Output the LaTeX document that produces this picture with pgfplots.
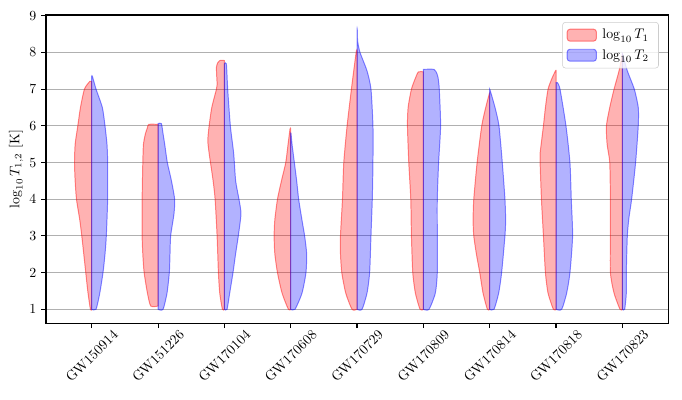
\documentclass[border=0pt]{standalone}
\usepackage{pgfplots}
\usepackage{pgfplotstable}
\pgfplotsset{compat=1.18}

% half-violin outlines: y value, half width (category units)
% GW150914
\pgfplotstableread[row sep=\\]{
y w\\ 1.0 0\\ 1.0 0.02\\ 1.5 0.06\\ 2 0.09\\ 2.5 0.12\\ 3 0.15\\ 3.43 0.18\\ 4 0.23\\ 4.5 0.25\\ 5 0.26\\ 5.5 0.25\\ 6 0.21\\ 6.5 0.17\\ 7 0.11\\ 7.21 0.03\\ 7.21 0\\
}\ra
\pgfplotstableread[row sep=\\]{
y w\\ 1.0 0\\ 1.0 0.065\\ 1.43 0.12\\ 2 0.17\\ 2.5 0.20\\ 3 0.22\\ 4 0.24\\ 5 0.24\\ 5.5 0.23\\ 6 0.20\\ 6.5 0.16\\ 7 0.065\\ 7.35 0.01\\ 7.35 0\\
}\ba
% GW151226
\pgfplotstableread[row sep=\\]{
y w\\ 1.09 0\\ 1.09 0.11\\ 1.44 0.16\\ 2 0.21\\ 2.5 0.23\\ 3 0.24\\ 4 0.24\\ 5 0.23\\ 5.5 0.22\\ 5.79 0.19\\ 5.95 0.16\\ 6.04 0.14\\ 6.04 0\\
}\rb
\pgfplotstableread[row sep=\\]{
y w\\ 1 0\\ 1 0.075\\ 1.44 0.135\\ 2 0.17\\ 2.5 0.18\\ 3 0.19\\ 3.6 0.24\\ 4 0.25\\ 4.52 0.2\\ 5 0.14\\ 5.5 0.10\\ 5.79 0.075\\ 6.06 0.05\\ 6.06 0\\
}\bb
% GW170104
\pgfplotstableread[row sep=\\]{
y w\\ 1 0\\ 1 0.03\\ 1.44 0.07\\ 2 0.09\\ 3 0.11\\ 4 0.14\\ 4.5 0.17\\ 5 0.21\\ 5.25 0.23\\ 5.6 0.25\\ 6 0.23\\ 6.5 0.19\\ 7 0.12\\ 7.15 0.11\\ 7.33 0.115\\ 7.6 0.12\\ 7.72 0.1\\ 7.78 0.07\\ 7.78 0\\
}\rc
\pgfplotstableread[row sep=\\]{
y w\\ 1 0\\ 1 0.04\\ 1.44 0.08\\ 2 0.13\\ 2.52 0.17\\ 3 0.21\\ 3.6 0.25\\ 4 0.22\\ 4.5 0.17\\ 5.25 0.14\\ 6 0.09\\ 7 0.05\\ 7.69 0.03\\ 7.69 0\\
}\bc
% GW170608
\pgfplotstableread[row sep=\\]{
y w\\ 1 0\\ 1 0.035\\ 1.44 0.13\\ 2 0.2\\ 2.52 0.24\\ 3 0.25\\ 3.43 0.24\\ 4 0.2\\ 4.5 0.14\\ 5 0.075\\ 5.5 0.04\\ 5.92 0.01\\ 5.92 0\\
}\rd
\pgfplotstableread[row sep=\\]{
y w\\ 1 0\\ 1 0.065\\ 1.44 0.17\\ 2 0.23\\ 2.52 0.24\\ 3 0.21\\ 3.43 0.17\\ 4 0.12\\ 4.5 0.09\\ 5 0.055\\ 5.5 0.02\\ 5.79 0.005\\ 5.79 0\\
}\bd
% GW170729
\pgfplotstableread[row sep=\\]{
y w\\ 1 0\\ 1 0.075\\ 1.44 0.17\\ 2 0.23\\ 2.52 0.25\\ 3 0.25\\ 4 0.22\\ 5 0.2\\ 6 0.15\\ 7 0.085\\ 7.5 0.05\\ 8.05 0.01\\ 8.05 0\\
}\re
\pgfplotstableread[row sep=\\]{
y w\\ 1 0\\ 1 0.075\\ 1.44 0.15\\ 2 0.19\\ 3 0.21\\ 4 0.23\\ 5 0.24\\ 6 0.24\\ 7 0.21\\ 7.5 0.15\\ 8 0.045\\ 8.3 0.01\\ 8.64 0.003\\ 8.64 0\\
}\be
% GW170809
\pgfplotstableread[row sep=\\]{
y w\\ 1 0\\ 1 0.05\\ 1.44 0.12\\ 2 0.16\\ 3 0.18\\ 4 0.19\\ 5 0.22\\ 6 0.24\\ 6.5 0.23\\ 7 0.18\\ 7.3 0.12\\ 7.47 0.075\\ 7.47 0\\
}\rf
\pgfplotstableread[row sep=\\]{
y w\\ 1 0\\ 1 0.085\\ 1.44 0.18\\ 2 0.21\\ 3 0.21\\ 4 0.21\\ 5 0.23\\ 6 0.26\\ 7 0.24\\ 7.33 0.22\\ 7.48 0.19\\ 7.54 0.16\\ 7.54 0\\
}\bff
% GW170814
\pgfplotstableread[row sep=\\]{
y w\\ 1 0\\ 1 0.035\\ 1.44 0.10\\ 2 0.15\\ 2.5 0.2\\ 3 0.24\\ 3.43 0.25\\ 4 0.24\\ 5 0.19\\ 6 0.12\\ 6.5 0.06\\ 6.88 0.005\\ 6.88 0\\
}\rg
\pgfplotstableread[row sep=\\]{
y w\\ 1 0\\ 1 0.065\\ 1.44 0.135\\ 2 0.18\\ 3 0.23\\ 3.43 0.24\\ 4 0.23\\ 5 0.19\\ 6 0.14\\ 6.5 0.08\\ 6.98 0.005\\ 6.98 0\\
}\bg
% GW170818
\pgfplotstableread[row sep=\\]{
y w\\ 1 0\\ 1 0.04\\ 1.44 0.12\\ 2 0.16\\ 3 0.19\\ 4 0.22\\ 5 0.24\\ 5.25 0.24\\ 6 0.19\\ 6.5 0.16\\ 7 0.12\\ 7.3 0.06\\ 7.51 0.005\\ 7.51 0\\
}\rh
\pgfplotstableread[row sep=\\]{
y w\\ 1 0\\ 1 0.085\\ 1.44 0.16\\ 2 0.21\\ 3 0.25\\ 4 0.23\\ 5 0.21\\ 6 0.15\\ 7 0.06\\ 7.18 0.02\\ 7.18 0\\
}\bh
% GW170823
\pgfplotstableread[row sep=\\]{
y w\\ 1 0\\ 1 0.035\\ 1.44 0.125\\ 2 0.18\\ 3 0.18\\ 4 0.18\\ 5 0.19\\ 5.5 0.23\\ 6 0.24\\ 6.5 0.19\\ 7 0.125\\ 7.5 0.05\\ 7.92 0.005\\ 7.92 0\\
}\ri
\pgfplotstableread[row sep=\\]{
y w\\ 1 0\\ 1 0.035\\ 1.44 0.06\\ 2 0.06\\ 3 0.075\\ 3.5 0.1\\ 4 0.14\\ 5 0.2\\ 6 0.24\\ 6.5 0.24\\ 7 0.18\\ 7.5 0.075\\ 7.95 0.005\\ 7.95 0\\
}\bi

\pgfplotsset{
  t1/.style={draw=red, draw opacity=0.45, fill=red, fill opacity=0.3, line width=0.7pt},
  t2/.style={draw=blue, draw opacity=0.45, fill=blue, fill opacity=0.3, line width=0.7pt},
}
% #1 position, #2 side (-1 left, 1 right), #3 style, #4 table
\newcommand{\half}[4]{\addplot[#3, forget plot, smooth, tension=0.4] table[x expr={#1+#2*\thisrow{w}}, y=y] {#4} -- cycle;}

\begin{document}
\begin{tikzpicture}
\begin{axis}[
  scale only axis,
  width=448pt, height=222pt,
  xmin=-0.69, xmax=8.69,
  ymin=0.62, ymax=9.02,
  xtick={0,...,8},
  xticklabels={GW150914,GW151226,GW170104,GW170608,GW170729,GW170809,GW170814,GW170818,GW170823},
  xticklabel style={yshift=-20pt, rotate=45, anchor=center},
  ytick={1,...,9},
  tick align=outside,
  xtick pos=bottom, ytick pos=left,
  major tick length=3.5pt,
  every tick/.style={black, line width=0.8pt},
  axis line style={line width=0.8pt},
  ymajorgrids,
  grid style={color=black!31, line width=0.8pt},
  ylabel={$\log_{10} T_{1,2}$ [K]},
  ylabel style={at={(axis description cs:-0.048,0.5)}, anchor=center},
  legend cell align=left,
  legend style={at={(0.985,0.977)}, anchor=north east, draw=black!20,
    rounded corners=2pt, fill=white, fill opacity=0.8, text opacity=1,
    row sep=2pt, inner sep=3pt,
    nodes={inner xsep=4pt}},
  legend image code/.code={\draw[#1] (0pt,-4.3pt) rectangle (21pt,4.3pt);},
]
\coordinate (sw) at (rel axis cs:0,0);
\coordinate (ne) at (rel axis cs:1,1);

\half{0}{-1}{t1}{\ra} \half{0}{1}{t2}{\ba}
\half{1}{-1}{t1}{\rb} \half{1}{1}{t2}{\bb}
\half{2}{-1}{t1}{\rc} \half{2}{1}{t2}{\bc}
\half{3}{-1}{t1}{\rd} \half{3}{1}{t2}{\bd}
\half{4}{-1}{t1}{\re} \half{4}{1}{t2}{\be}
\half{5}{-1}{t1}{\rf} \half{5}{1}{t2}{\bff}
\half{6}{-1}{t1}{\rg} \half{6}{1}{t2}{\bg}
\half{7}{-1}{t1}{\rh} \half{7}{1}{t2}{\bh}
\half{8}{-1}{t1}{\ri} \half{8}{1}{t2}{\bi}

\addlegendimage{t1}
\addlegendentry{$\log_{10} T_1$}
\addlegendimage{t2}
\addlegendentry{$\log_{10} T_2$}
\end{axis}
\pgfresetboundingbox
\path ([shift={(-33.1pt,-54.7pt)}]sw) rectangle ([shift={(10pt,10.8pt)}]ne);
\end{tikzpicture}
\end{document}
